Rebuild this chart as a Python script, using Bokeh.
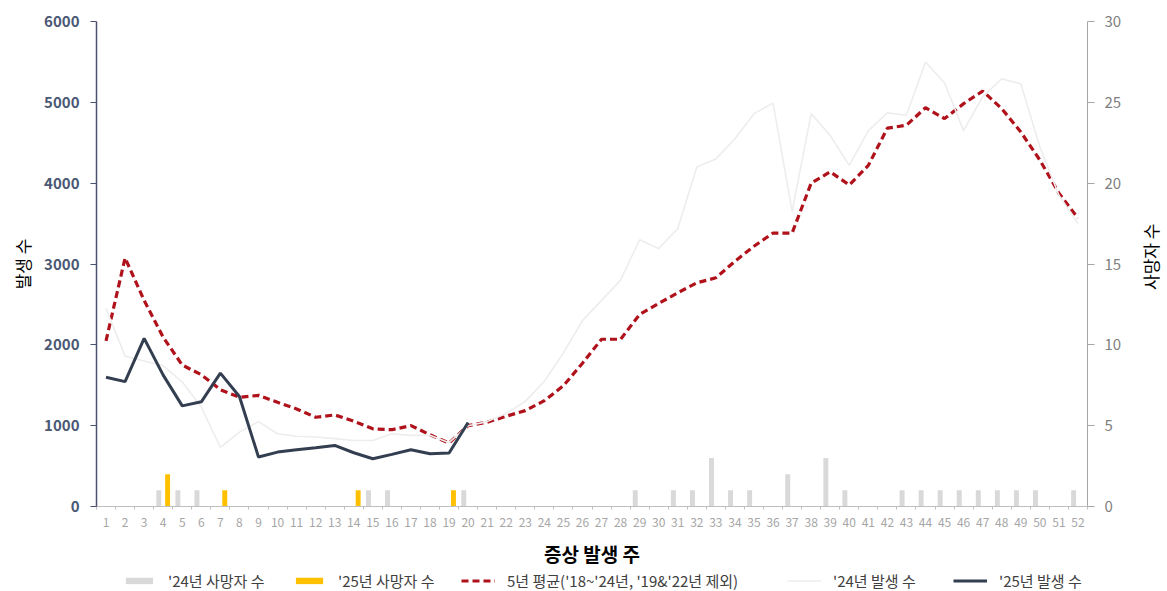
import math
from bokeh.plotting import figure
from bokeh.models import Range1d, LinearAxis, FixedTicker, Legend, LegendItem, ColumnDataSource, Label
from bokeh.core.properties import value
from bokeh.transform import dodge
from bokeh.layouts import column, row
from bokeh.embed import file_html
from bokeh.resources import INLINE

FONT = "Noto Sans CJK KR"

# ---------------- data ----------------
weeks = list(range(1, 53))
weeks_25 = list(range(1, 21))

deaths_24 = [0, 0, 0, 1, 1, 1, 0, 0, 0, 0,
             0, 0, 0, 0, 1, 1, 0, 0, 0, 1,
             0, 0, 0, 0, 0, 0, 0, 0, 1, 0,
             1, 1, 3, 1, 1, 0, 2, 0, 3, 1,
             0, 0, 1, 1, 1, 1, 1, 1, 1, 1,
             0, 1]
deaths_25 = [0, 0, 0, 2, 0, 0, 1, 0, 0, 0,
             0, 0, 0, 1, 0, 0, 0, 0, 1, 0]

avg_5yr = [2049, 3075, 2550, 2093, 1750, 1630, 1445, 1351, 1375, 1289,
           1207, 1104, 1133, 1055, 961, 950, 1001, 887, 785, 1001,
           1043, 1117, 1186, 1309, 1494, 1773, 2069, 2069, 2377, 2512,
           2644, 2767, 2829, 3034, 3219, 3383, 3383, 4000, 4140, 3978,
           4220, 4680, 4716, 4934, 4799, 4984, 5139, 4922, 4634, 4286,
           3876, 3568]
inc_24 = [2450, 1860, 1800, 1740, 1540, 1230, 730, 920, 1050, 900,
          870, 860, 840, 816, 816, 900, 880, 880, 790, 1000,
          1050, 1150, 1300, 1550, 1900, 2300, 2550, 2800, 3300, 3190,
          3440, 4200, 4300, 4550, 4860, 4990, 3650, 4860, 4590, 4220,
          4650, 4870, 4840, 5500, 5240, 4650, 5070, 5290, 5230, 4450,
          3850, 3500]
inc_25 = [1600, 1545, 2080, 1625, 1245, 1295, 1650, 1360, 612, 673,
          702, 727, 755, 665, 591, 645, 702, 653, 661, 1040]

left_ticks = [0, 1000, 2000, 3000, 4000, 5000, 6000]
right_ticks = [0, 5, 10, 15, 20, 25, 30]

labels = {
    "d24": "'24년 사망자 수",
    "d25": "'25년 사망자 수",
    "avg": "5년 평균('18~'24년, '19&'22년 제외)",
    "i24": "'24년 발생 수",
    "i25": "'25년 발생 수",
}
styles = {
    "d24": dict(kind="bar", color="#D9D9D9"),
    "d25": dict(kind="bar", color="#FFC000"),
    "avg": dict(kind="line", color="#B0121B", width=3.2, dash="7 4"),
    "i24": dict(kind="line", color="#EDEDED", width=1.6, dash="solid"),
    "i25": dict(kind="line", color="#333F50", width=3, dash="solid"),
}

# ---------------- main figure ----------------
p = figure(width=1134, height=569,
           x_range=Range1d(0.5, 52.5), y_range=Range1d(0, 6000),
           output_backend="svg", toolbar_location=None,
           min_border_left=96, min_border_right=47,
           min_border_top=21, min_border_bottom=61)
p.outline_line_color = None
p.xgrid.visible = False
p.ygrid.visible = False
p.background_fill_color = "white"
p.border_fill_color = "white"
p.extra_y_ranges = {"deaths": Range1d(0, 30)}

# x axis
xa = p.xaxis[0]
xa.ticker = FixedTicker(ticks=weeks, minor_ticks=[w - 0.5 for w in weeks] + [52.5])
xa.axis_line_color = "#BFBFBF"
xa.major_tick_line_color = None
xa.minor_tick_line_color = "#BFBFBF"
xa.minor_tick_in = 0
xa.minor_tick_out = 3
xa.major_label_standoff = 5
xa.major_label_text_font = FONT
xa.major_label_text_font_size = "12px"
xa.major_label_text_color = "#A6A6A6"
xa.axis_label = "증상 발생 주"
xa.axis_label_text_font = FONT
xa.axis_label_text_font_size = "19px"
xa.axis_label_text_font_style = "bold"
xa.axis_label_text_color = "#000000"
xa.axis_label_standoff = 10

# left axis
ya = p.yaxis[0]
ya.ticker = FixedTicker(ticks=left_ticks)
ya.axis_line_color = "#4A5270"
ya.axis_line_width = 1.5
ya.major_tick_line_color = "#4A5270"
ya.major_tick_in = 0
ya.major_tick_out = 6
ya.minor_tick_line_color = None
ya.major_label_standoff = 11
ya.major_label_text_font = FONT
ya.major_label_text_font_size = "15px"
ya.major_label_text_font_style = "bold"
ya.major_label_text_color = "#4B5873"
ya.axis_label = "발생 수"
ya.axis_label_text_font = FONT
ya.axis_label_text_font_size = "17px"
ya.axis_label_text_font_style = "normal"
ya.axis_label_text_color = "#000000"
ya.axis_label_standoff = 6

# right axis
ra = LinearAxis(y_range_name="deaths", ticker=FixedTicker(ticks=right_ticks))
ra.axis_line_color = "#A6A6A6"
ra.major_tick_line_color = "#A6A6A6"
ra.major_tick_in = 0
ra.major_tick_out = 7
ra.minor_tick_line_color = None
ra.major_label_standoff = 10
ra.major_label_text_font = FONT
ra.major_label_text_font_size = "15px"
ra.major_label_text_color = "#7F7F7F"
p.add_layout(ra, "right")

# glyphs
src24 = ColumnDataSource(dict(week=weeks, deaths=deaths_24))
src25 = ColumnDataSource(dict(week=weeks_25, deaths=deaths_25))

p.vbar(x=dodge("week", -0.23, range=p.x_range), top="deaths", width=0.26, bottom=0,
       source=src24, y_range_name="deaths", fill_color=styles["d24"]["color"], line_color=None)
p.vbar(x=dodge("week", 0.23, range=p.x_range), top="deaths", width=0.26, bottom=0,
       source=src25, y_range_name="deaths", fill_color=styles["d25"]["color"], line_color=None)
p.line(weeks, avg_5yr, line_color=styles["avg"]["color"], line_width=styles["avg"]["width"],
       line_dash=styles["avg"]["dash"])
p.line(weeks, inc_24, line_color=styles["i24"]["color"], line_width=styles["i24"]["width"])
p.line(weeks_25, inc_25, line_color=styles["i25"]["color"], line_width=styles["i25"]["width"])

# ---------------- right-axis title strip ----------------
side_w, side_h = 33, 569
side = figure(width=side_w, height=side_h, x_range=Range1d(0, side_w), y_range=Range1d(0, side_h),
              x_axis_type=None, y_axis_type=None, output_backend="svg", toolbar_location=None,
              min_border=0)
side.outline_line_color = None
side.add_layout(Label(x=16, y=side_h - 276, text="사망자 수", angle=math.pi / 2,
                      text_align="center", text_baseline="middle",
                      text_font=FONT, text_font_size="17px", text_color="#000000"))

# ---------------- legend strip ----------------
leg_w, leg_h = 1167, 22
lf = figure(width=leg_w, height=leg_h, x_range=Range1d(0, leg_w), y_range=Range1d(0, leg_h),
            x_axis_type=None, y_axis_type=None, output_backend="svg", toolbar_location=None,
            min_border=0)
lf.outline_line_color = None
nan = float("nan")
legend_x = {"d24": 122, "d25": 292, "avg": 461, "i24": 787, "i25": 953}
for key in ["d24", "d25", "avg", "i24", "i25"]:
    st = styles[key]
    # legend-only proxy renderers (NaN data: nothing is drawn in the strip itself)
    if st["kind"] == "bar":
        proxy = lf.vbar(x=[nan], top=[nan], width=1, fill_color=st["color"], line_color=None)
    else:
        proxy = lf.line(x=[nan, nan], y=[nan, nan], line_color=st["color"], line_width=st["width"],
                        line_dash=st["dash"])
    leg = Legend(items=[LegendItem(label=value(labels[key]), renderers=[proxy])],
                 location="left", orientation="horizontal",
                 glyph_width=34, glyph_height=8, label_height=8,
                 label_standoff=12, padding=0, margin=legend_x[key], spacing=0,
                 border_line_color=None, background_fill_alpha=0,
                 label_text_font=FONT, label_text_font_size="15px",
                 label_text_color="#404040")
    lf.add_layout(leg, "center")

layout = column(row(p, side), lf)
open("out.html", "w").write(file_html(layout, INLINE))
